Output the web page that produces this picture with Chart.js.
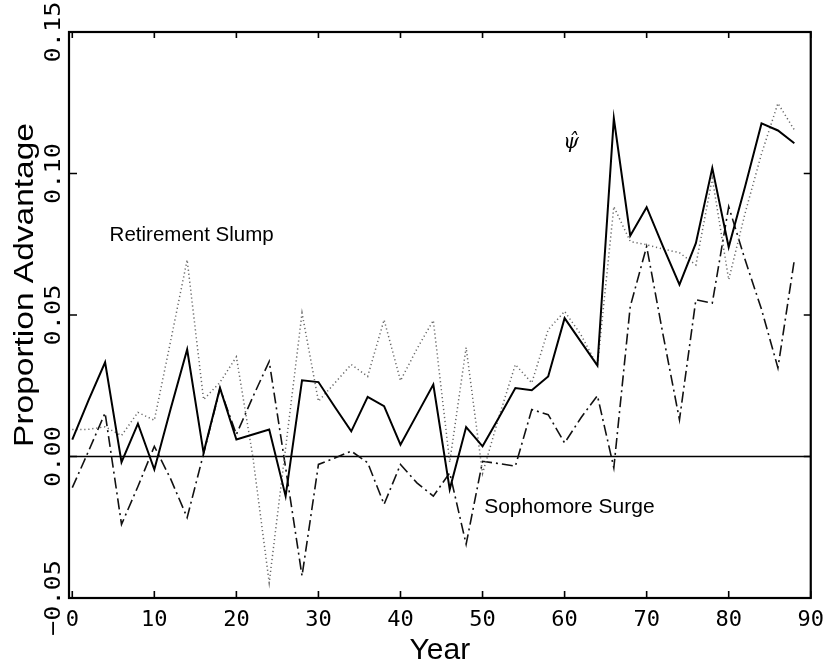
<!DOCTYPE html>
<html>
<head>
<meta charset="utf-8">
<script src="https://cdn.jsdelivr.net/npm/chart.js@4"></script>
<style>
  body { margin: 0; background: #fff; }
  canvas { display: block; }
</style>
</head>
<body>
<canvas id="chart" width="833" height="669"></canvas>
<script>
// election years since start of series
const years = [0, 2, 4, 6, 8, 10, 12, 14, 16, 18, 20, 22, 24, 26, 28, 30, 32, 34, 36, 38, 40, 42, 44,
               46, 48, 50, 52, 54, 56, 58, 60, 62, 64, 66, 68, 70, 72, 74, 76, 78, 80, 82, 84, 86, 88];

// psi-hat (solid)
const psiHat = [0.006, 0.020, 0.0333, -0.002, 0.0116, -0.0046, 0.017, 0.0378, 0.0013, 0.0242, 0.006, 0.0078,
                0.0095, -0.014, 0.0269, 0.0263, 0.0175, 0.0089, 0.0211, 0.0178, 0.0042, 0.0148, 0.0254,
                -0.0116, 0.0104, 0.0036, 0.0138, 0.0242, 0.0234, 0.0283, 0.0489, 0.0405, 0.0321, 0.1195,
                0.078, 0.0881, 0.0742, 0.0607, 0.0754, 0.1019, 0.074, 0.0954, 0.1177, 0.1152, 0.1107];

// retirement slump (dotted)
const slump = [0.0095, 0.0096, 0.0105, 0.0074, 0.0156, 0.0128, 0.041, 0.0695, 0.0201, 0.0262, 0.0352, 0.0,
               -0.0446, 0.003, 0.0507, 0.0195, 0.026, 0.0325, 0.0283, 0.0483, 0.0268, 0.038, 0.0481,
               -0.002, 0.0385, -0.006, 0.014, 0.0325, 0.026, 0.0448, 0.0513, 0.043, 0.032, 0.0883,
               0.076, 0.0748, 0.0733, 0.072, 0.0677, 0.0983, 0.0625, 0.086, 0.107, 0.1248, 0.1154];

// sophomore surge (dash-dot)
const surge = [-0.011, 0.002, 0.0154, -0.024, -0.0106, 0.0036, -0.008, -0.0216, 0.001, 0.024, 0.0078, 0.021,
               0.0336, -0.004, -0.0422, -0.0028, -0.0005, 0.0019, -0.0022, -0.0169, -0.0028, -0.0093, -0.014,
               -0.0058, -0.031, -0.0017, -0.0025, -0.0034, 0.0166, 0.0148, 0.0048, 0.0137, 0.0215, -0.004,
               0.053, 0.0742, 0.043, 0.013, 0.0554, 0.0542, 0.0883, 0.0695, 0.052, 0.0313, 0.0695];

const xTicks = [0, 10, 20, 30, 40, 50, 60, 70, 80, 90];
const yTicks = [-0.05, 0, 0.05, 0.10, 0.15];
const yTickLabels = ['\u22120.05', '0.00', '0.05', '0.10', '0.15'];

const pts = arr => arr.map((v, i) => ({ x: years[i], y: v }));

const MONO = "'DejaVu Sans Mono', monospace";
const SANS = "'Liberation Sans', Arial, sans-serif";

const framePlugin = {
    id: 'frame',
    beforeDraw(chart) {
        const ctx = chart.ctx;
        ctx.save();
        ctx.fillStyle = '#fff';
        ctx.fillRect(0, 0, chart.width, chart.height);
        ctx.restore();
    },
    beforeDatasetsDraw(chart) {
        // zero reference line
        const { ctx, chartArea: a, scales: { y } } = chart;
        const py = y.getPixelForValue(0);
        ctx.save();
        ctx.strokeStyle = '#000';
        ctx.lineWidth = 1.3;
        ctx.beginPath();
        ctx.moveTo(a.left, py);
        ctx.lineTo(a.right, py);
        ctx.stroke();
        ctx.restore();
    },
    afterDatasetsDraw(chart) {
        const { ctx, chartArea: a, scales: { x, y } } = chart;
        ctx.save();
        ctx.strokeStyle = '#000';
        ctx.lineWidth = 2.2;
        ctx.strokeRect(a.left, a.top, a.right - a.left, a.bottom - a.top);
        ctx.lineWidth = 1.6;
        ctx.beginPath();
        xTicks.forEach(t => {
            const px = x.getPixelForValue(t);
            ctx.moveTo(px, a.bottom); ctx.lineTo(px, a.bottom - 7);
            ctx.moveTo(px, a.top); ctx.lineTo(px, a.top + 6);
        });
        yTicks.forEach(t => {
            const py = y.getPixelForValue(t);
            ctx.moveTo(a.left, py); ctx.lineTo(a.left + 8, py);
            ctx.moveTo(a.right, py); ctx.lineTo(a.right - 7, py);
        });
        ctx.stroke();

        // y tick labels, rotated
        ctx.fillStyle = '#000';
        ctx.font = '22px ' + MONO;
        ctx.textAlign = 'center';
        ctx.textBaseline = 'alphabetic';
        yTicks.forEach((t, i) => {
            const py = y.getPixelForValue(t);
            ctx.save();
            ctx.translate(60, py);
            ctx.rotate(-Math.PI / 2);
            ctx.scale(1.15, 1);
            ctx.fillText(yTickLabels[i], 0, 0);
            ctx.restore();
        });

        // y axis title
        ctx.save();
        ctx.font = '27px ' + SANS;
        ctx.translate(33, 285);
        ctx.rotate(-Math.PI / 2);
        ctx.scale(1.24, 1);
        ctx.fillText('Proportion Advantage', 0, 0);
        ctx.restore();

        // series labels
        ctx.textAlign = 'left';
        ctx.font = '20.5px ' + SANS;
        ctx.fillText('Retirement Slump', x.getPixelForValue(4.55), y.getPixelForValue(0.076));
        ctx.font = '21px ' + SANS;
        ctx.fillText('Sophomore Surge', x.getPixelForValue(50.2), y.getPixelForValue(-0.0198));
        ctx.font = 'italic 20px "DejaVu Serif", serif';
        ctx.textAlign = 'center';
        ctx.fillText('\u03c8\u0302', x.getPixelForValue(60.8), y.getPixelForValue(0.109));
        ctx.restore();
    }
};

new Chart(document.getElementById('chart'), {
    type: 'line',
    data: {
        datasets: [
            { label: 'psi-hat', data: pts(psiHat), borderColor: '#000', borderWidth: 2 },
            { label: 'Retirement Slump', data: pts(slump), borderColor: '#666', borderWidth: 1.5, borderDash: [1.2, 2.8] },
            { label: 'Sophomore Surge', data: pts(surge), borderColor: '#111', borderWidth: 1.6, borderDash: [11, 4, 2, 4] }
        ]
    },
    options: {
        responsive: false,
        animation: false,
        events: [],
        elements: { point: { radius: 0 }, line: { tension: 0, fill: false } },
        layout: { padding: { left: 69, top: 32, right: 17, bottom: 0 } },
        plugins: { legend: { display: false }, tooltip: { enabled: false } },
        scales: {
            x: {
                type: 'linear',
                min: -0.4,
                max: 90,
                afterBuildTicks: s => { s.ticks = xTicks.map(v => ({ value: v })); },
                afterFit: s => { s.height = 71; },
                grid: { display: false, drawTicks: false },
                border: { display: false },
                ticks: { color: '#000', font: { family: MONO, size: 22 }, padding: 9, maxRotation: 0, autoSkip: false },
                title: { display: true, text: 'Year', color: '#000', font: { family: SANS, size: 30 }, padding: { top: 0, bottom: 0 } }
            },
            y: {
                type: 'linear',
                display: false,
                min: -0.05,
                max: 0.15
            }
        }
    },
    plugins: [framePlugin]
});
</script>
</body>
</html>
